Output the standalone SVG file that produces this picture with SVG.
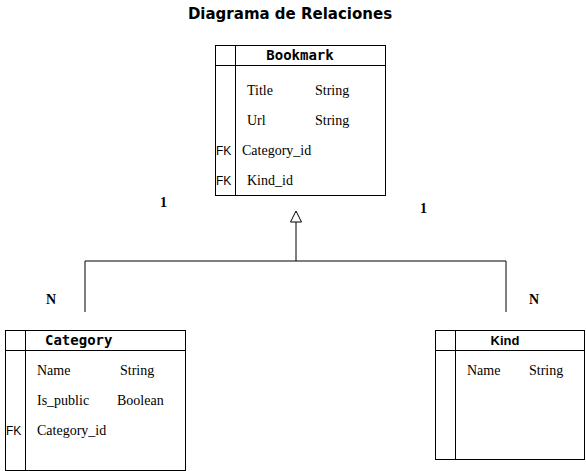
<svg xmlns="http://www.w3.org/2000/svg" width="586" height="471" viewBox="0 0 586 471">
<style>
.box{fill:#fff;stroke:#000;stroke-width:1}
.ln{stroke:#000;stroke-width:1;fill:none}
.f{font-family:"Liberation Serif","Times New Roman",serif;font-size:14px;fill:#000}
.fk{font-family:"Liberation Sans",sans-serif;font-size:12px;fill:#000}
.hd{font-family:"DejaVu Sans Mono",monospace;font-size:14px;font-weight:bold;fill:#000}
.lb{font-family:"Liberation Serif",serif;font-size:14px;font-weight:bold;fill:#000}
</style>
<rect width="586" height="471" fill="#fff"/>
<text x="290" y="19" text-anchor="middle" style="font-family:'DejaVu Sans',sans-serif;font-size:15px;font-weight:bold">Diagrama de Relaciones</text>
<g id="connectors">
<polyline class="ln" points="85,312 85,261 506,261 506,312"/>
<line class="ln" x1="296" y1="261" x2="296" y2="222"/>
<polygon points="296,211 290.5,222 301.5,222" fill="#fff" stroke="#000"/>
<text class="lb" x="160" y="207">1</text>
<text class="lb" x="420" y="213">1</text>
<text class="lb" x="46" y="304">N</text>
<text class="lb" x="529" y="304">N</text>
</g>
<g id="bookmark">
<rect class="box" x="215.5" y="45.5" width="170" height="150"/>
<line class="ln" x1="215" y1="65.5" x2="386" y2="65.5"/>
<line class="ln" x1="235.5" y1="45" x2="235.5" y2="196"/>
<text class="hd" x="300" y="60" text-anchor="middle">Bookmark</text>
<text class="f" x="247" y="95">Title</text><text class="f" x="315" y="95">String</text>
<text class="f" x="247" y="125">Url</text><text class="f" x="315" y="125">String</text>
<text class="fk" x="216" y="155">FK</text><text class="f" x="242" y="155">Category_id</text>
<text class="fk" x="216" y="185">FK</text><text class="f" x="247" y="185">Kind_id</text>
</g>
<g id="category">
<rect class="box" x="5.5" y="330.5" width="180" height="140"/>
<line class="ln" x1="5" y1="350.5" x2="186" y2="350.5"/>
<line class="ln" x1="25.5" y1="330" x2="25.5" y2="471"/>
<text class="hd" x="45" y="345">Category</text>
<text class="f" x="37" y="375">Name</text><text class="f" x="120" y="375">String</text>
<text class="f" x="37" y="405">Is_public</text><text class="f" x="117" y="405">Boolean</text>
<text class="fk" x="6" y="435">FK</text><text class="f" x="37" y="435">Category_id</text>
</g>
<g id="kind">
<rect class="box" x="435.5" y="330.5" width="149" height="129"/>
<line class="ln" x1="435" y1="350.5" x2="585" y2="350.5"/>
<line class="ln" x1="455.5" y1="330" x2="455.5" y2="460"/>
<text x="505" y="345" text-anchor="middle" style="font-family:'Liberation Sans',sans-serif;font-size:13px;font-weight:bold">Kind</text>
<text class="f" x="467" y="375">Name</text><text class="f" x="529" y="375">String</text>
</g>
</svg>
